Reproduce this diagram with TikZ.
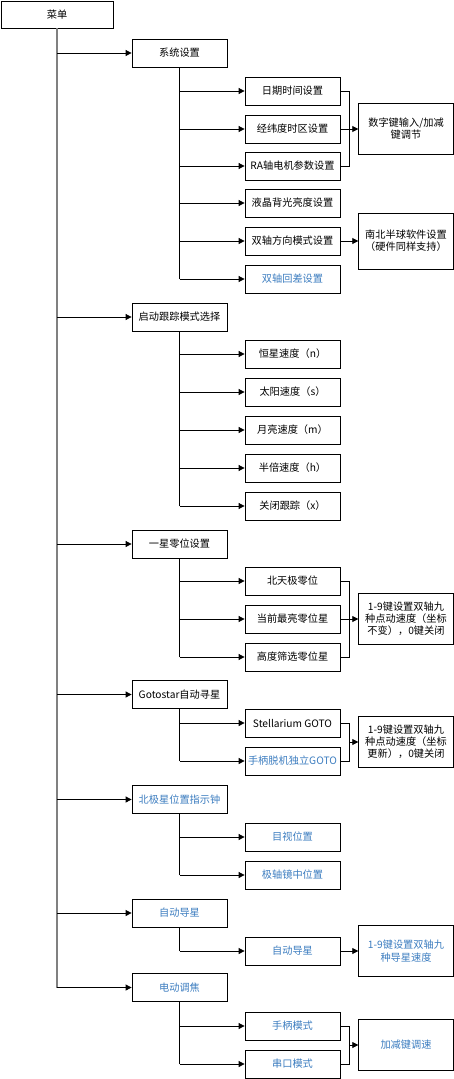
\documentclass[tikz,border=0pt]{standalone}
\usepackage{fontspec}
\setmainfont{Noto Sans CJK SC}
\usetikzlibrary{arrows.meta,shadows}
\definecolor{tblue}{HTML}{3C7DC0}
\definecolor{trunkgray}{HTML}{808080}
\definecolor{shadowgray}{HTML}{8C8C8C}
\begin{document}
\begin{tikzpicture}[x=1pt,y=-1pt,
  box/.style={draw=black, line width=0.8pt, fill=white, minimum width=95pt, minimum height=28pt,
    inner sep=1pt, font=\fontsize{10.2}{12}\selectfont, align=center,
    drop shadow={shadow xshift=0.9pt, shadow yshift=-0.9pt, fill=shadowgray, opacity=1}},
  rbox/.style={box, minimum width=94.6pt, minimum height=51pt, font=\fontsize{10.2}{12.2}\selectfont},
  blu/.style={text=tblue},
  conn/.style={draw=black, line width=0.8pt},
  arr/.style={conn, -{Triangle[length=6pt,width=6pt]}},
  trunk/.style={draw=trunkgray, line width=1.3pt}
]
\useasboundingbox (0,0) rectangle (454,1079);
\fill[white] (0,0) rectangle (454,1079);

% root
\node[box, minimum width=112pt, minimum height=27pt] (root) at (57,14.5) {菜单};

% level 1
\node[box] (s1) at (179.5,53) {系统设置};
\node[box] (s2) at (179.5,317) {启动跟踪模式选择};
\node[box] (s3) at (179.5,544) {一星零位设置};
\node[box] (s4) at (179.5,694.5) {Gotostar自动寻星};
\node[box,blu] (s5) at (179.5,799.5) {北极星位置指示钟};
\node[box,blu] (s6) at (179.5,913) {自动导星};
\node[box,blu] (s7) at (179.5,987.5) {电动调焦};

% level 2
\node[box] (a1) at (292.5,91) {日期时间设置};
\node[box] (a2) at (292.5,129) {经纬度时区设置};
\node[box] (a3) at (292.5,166) {RA轴电机参数设置};
\node[box] (a4) at (292.5,203) {液晶背光亮度设置};
\node[box] (a5) at (292.5,241) {双轴方向模式设置};
\node[box,blu] (a6) at (292.5,279) {双轴回差设置};

\node[box] (b1) at (292.5,354) {恒星速度（n）};
\node[box] (b2) at (292.5,392) {太阳速度（s）};
\node[box] (b3) at (292.5,430) {月亮速度（m）};
\node[box] (b4) at (292.5,468) {半倍速度（h）};
\node[box] (b5) at (292.5,506) {关闭跟踪（x）};

\node[box] (c1) at (292.5,581) {北天极零位};
\node[box] (c2) at (292.5,619) {当前最亮零位星};
\node[box] (c3) at (292.5,657) {高度筛选零位星};

\node[box] (d1) at (292.5,723) {Stellarium GOTO};
\node[box,blu] (d2) at (292.5,761) {手柄脱机独立GOTO};

\node[box,blu] (e1) at (292.5,837) {目视位置};
\node[box,blu] (e2) at (292.5,875) {极轴镜中位置};

\node[box,blu] (f1) at (292.5,951) {自动导星};

\node[box,blu] (g1) at (292.5,1026) {手柄模式};
\node[box,blu] (g2) at (292.5,1064) {串口模式};

% right boxes
\node[rbox] (r1) at (406,129) {数字键输入/加减\\键调节};
\node[rbox, minimum height=56pt] (r2) at (406,241) {南北半球软件设置\\（硬件同样支持）};
\node[rbox] (r3) at (406,619) {1-9键设置双轴九\\种点动速度（坐标\\不变），0键关闭};
\node[rbox] (r4) at (406,742) {1-9键设置双轴九\\种点动速度（坐标\\更新），0键关闭};
\node[rbox,blu] (r5) at (406,951) {1-9键设置双轴九\\种导星速度};
\node[rbox,blu] (r6) at (406,1045) {加减键调速};

% main trunk
\draw[trunk] (root.south) -- (root.south |- s7.west);
\foreach \n in {s1,s2,s3,s4,s5,s6,s7}
  \draw[arr] (root.south |- \n.west) -- (\n.west);

% sub trunks
\draw[conn] (s1.south) -- (s1.south |- a6.west);
\foreach \n in {a1,a2,a3,a4,a5,a6}
  \draw[arr] (s1.south |- \n.west) -- (\n.west);
\draw[conn] (s2.south) -- (s2.south |- b5.west);
\foreach \n in {b1,b2,b3,b4,b5}
  \draw[arr] (s2.south |- \n.west) -- (\n.west);
\draw[conn] (s3.south) -- (s3.south |- c3.west);
\foreach \n in {c1,c2,c3}
  \draw[arr] (s3.south |- \n.west) -- (\n.west);
\draw[conn] (s4.south) -- (s4.south |- d2.west);
\foreach \n in {d1,d2}
  \draw[arr] (s4.south |- \n.west) -- (\n.west);
\draw[conn] (s5.south) -- (s5.south |- e2.west);
\foreach \n in {e1,e2}
  \draw[arr] (s5.south |- \n.west) -- (\n.west);
\draw[conn] (s6.south) -- (s6.south |- f1.west);
\draw[arr] (s6.south |- f1.west) -- (f1.west);
\draw[conn] (s7.south) -- (s7.south |- g2.west);
\foreach \n in {g1,g2}
  \draw[arr] (s7.south |- \n.west) -- (\n.west);

% brackets to right boxes
\draw[conn] (a1.east) -- ++(9,0) coordinate (k1) -- (k1 |- a3.east) -- (a3.east);
\draw[arr] (a2.east) -- (r1.west);
\draw[arr] (a5.east) -- (r2.west);
\draw[conn] (c1.east) -- ++(9,0) coordinate (k3) -- (k3 |- c3.east) -- (c3.east);
\draw[arr] (c2.east) -- (r3.west);
\draw[conn] (d1.east) -- ++(9,0) coordinate (k4) -- (k4 |- d2.east) -- (d2.east);
\draw[arr] (k4 |- r4.west) -- (r4.west);
\draw[arr] (f1.east) -- (r5.west);
\draw[conn] (g1.east) -- ++(9,0) coordinate (k6) -- (k6 |- g2.east) -- (g2.east);
\draw[arr] (k6 |- r6.west) -- (r6.west);
\end{tikzpicture}
\end{document}
